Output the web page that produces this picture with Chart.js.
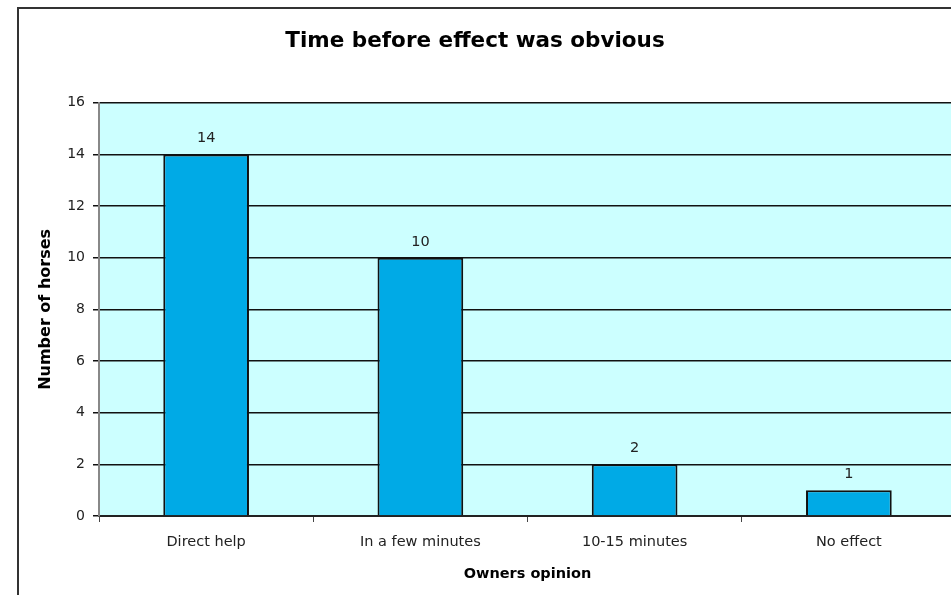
<!DOCTYPE html>
<html>
<head>
<meta charset="utf-8">
<script src="https://cdn.jsdelivr.net/npm/chart.js@4/dist/chart.umd.min.js"></script>
<style>
  html, body { margin: 0; padding: 0; background: #fff; overflow: hidden; }
  #wrap { position: relative; width: 951px; height: 595px; overflow: hidden; }
  #frame { position: absolute; left: 17px; top: 7px; width: 1000px; height: 1000px; border: 2px solid #333; }
  #chart { position: absolute; left: 0; top: 0; }
</style>
</head>
<body>
<div id="wrap">
  <div id="frame"></div>
  <canvas id="chart" width="960" height="595"></canvas>
</div>
<script>
const categories = ['Direct help', 'In a few minutes', '10-15 minutes', 'No effect'];
const horses = [14, 10, 2, 1];
const yTicks = [0, 2, 4, 6, 8, 10, 12, 14, 16];

const FONT = 'DejaVu Sans, Verdana, sans-serif';

// light cyan plot area
const plotBg = {
  id: 'plotBg',
  beforeDraw(chart) {
    const { ctx, chartArea: a } = chart;
    ctx.save();
    ctx.fillStyle = '#CCFFFF';
    ctx.fillRect(a.left, a.top, a.right - a.left, a.bottom - a.top);
    ctx.restore();
  }
};

// value labels above bars
const barLabels = {
  id: 'barLabels',
  afterDatasetsDraw(chart) {
    const { ctx } = chart;
    const meta = chart.getDatasetMeta(0);
    ctx.save();
    ctx.font = '14.5px ' + FONT;
    ctx.fillStyle = '#222';
    ctx.textAlign = 'center';
    ctx.textBaseline = 'middle';
    meta.data.forEach((bar, i) => {
      ctx.fillText(String(horses[i]), bar.x, bar.y - 16);
    });
    ctx.restore();
  }
};

new Chart(document.getElementById('chart'), {
  type: 'bar',
  data: {
    labels: categories,
    datasets: [{
      data: horses,
      backgroundColor: '#00AAE6',
      borderColor: '#111',
      borderWidth: 2,
      barPercentage: 0.4,
      categoryPercentage: 1
    }]
  },
  options: {
    responsive: false,
    animation: false,
    layout: { padding: { left: -6, right: 4, top: 0, bottom: 0 } },
    plugins: {
      legend: { display: false },
      tooltip: { enabled: false },
      title: {
        display: true,
        text: 'Time before effect was obvious',
        color: '#000',
        font: { family: FONT, size: 21.5, weight: 'bold' },
        padding: { top: 29, bottom: 48 }
      }
    },
    scales: {
      x: {
        afterFit: s => { s.height = 79; },
        grid: { offset: true, drawOnChartArea: false, drawTicks: true, tickLength: 6, color: '#444', lineWidth: 1 },
        border: { color: '#222', width: 2 },
        ticks: { color: '#222', font: { family: FONT, size: 14.5 }, padding: 12, maxRotation: 0 },
        title: { display: true, text: 'Owners opinion', color: '#000', font: { family: FONT, size: 14.5, weight: 'bold' }, padding: { top: 4, bottom: 12 } }
      },
      y: {
        min: 0,
        max: 16,
        afterFit: s => { s.width = 105; },
        afterBuildTicks: s => { s.ticks = yTicks.map(v => ({ value: v })); },
        grid: { color: '#111', lineWidth: 1.5, tickLength: 6 },
        border: { color: '#888', width: 2 },
        ticks: { color: '#222', font: { family: FONT, size: 14 }, padding: 8 },
        title: { display: true, text: 'Number of horses', color: '#000', font: { family: FONT, size: 16, weight: 'bold' }, padding: { top: 42, bottom: 0 } }
      }
    }
  },
  plugins: [plotBg, barLabels]
});
</script>
</body>
</html>
